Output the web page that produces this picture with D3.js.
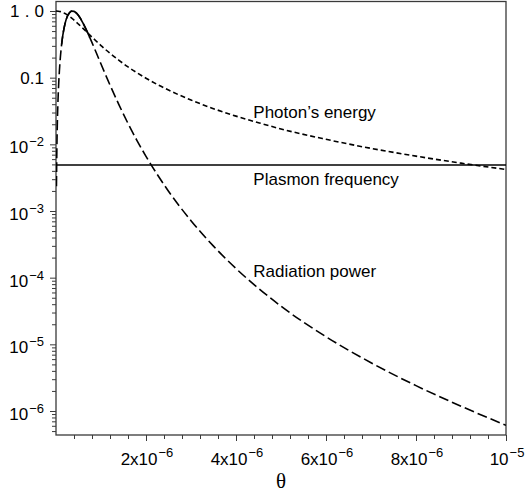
<!DOCTYPE html>
<html>
<head>
<meta charset="utf-8">
<script src="https://cdn.jsdelivr.net/npm/d3@7"></script>
<style>
  body { margin: 0; background: #fff; }
  svg { display: block; font-family: "Liberation Sans", Arial, Helvetica, sans-serif; }
</style>
</head>
<body>
<svg id="chart" width="525" height="496"></svg>
<script>
// theta values (rad)
const thetaPhoton = [0, 0.05e-6, 0.1e-6, 0.15e-6, 0.2e-6, 0.25e-6, 0.3e-6, 0.35e-6, 0.4e-6, 0.45e-6,
  0.5e-6, 0.6e-6, 0.7e-6, 0.8e-6, 0.9e-6, 1.0e-6, 1.2e-6, 1.4e-6, 1.6e-6, 1.8e-6, 2.0e-6,
  2.25e-6, 2.5e-6, 3.0e-6, 3.5e-6, 4.0e-6, 4.5e-6, 5.0e-6, 6.0e-6, 7.0e-6, 8.0e-6, 9.0e-6, 10e-6];
const photonEnergy = [1.0, 0.994, 0.978, 0.951, 0.916, 0.875, 0.829, 0.781, 0.731, 0.683,
  0.635, 0.548, 0.471, 0.405, 0.350, 0.303, 0.232, 0.182, 0.145, 0.1185, 0.0982,
  0.0792, 0.0652, 0.0462, 0.0343, 0.0265, 0.0211, 0.0170, 0.0119, 0.00870, 0.00665, 0.00522, 0.00420];

const thetaPower = [0.01e-6, 0.02e-6, 0.03e-6, 0.05e-6, 0.075e-6, 0.1e-6, 0.125e-6, 0.15e-6, 0.2e-6, 0.25e-6,
  0.3e-6, 0.35e-6, 0.4e-6, 0.45e-6, 0.5e-6, 0.6e-6, 0.7e-6, 0.75e-6, 0.8e-6, 0.9e-6, 1.0e-6,
  1.2e-6, 1.4e-6, 1.6e-6, 1.8e-6, 2.0e-6, 2.25e-6, 2.5e-6, 3.0e-6, 3.5e-6, 4.0e-6, 4.5e-6,
  5.0e-6, 6.0e-6, 7.0e-6, 8.0e-6, 9.0e-6, 10e-6];
const radiationPower = [0.00235, 0.00937, 0.0210, 0.0574, 0.125, 0.213, 0.316, 0.426, 0.644, 0.826,
  0.945, 0.997, 0.988, 0.935, 0.854, 0.660, 0.479, 0.402, 0.336, 0.232, 0.160,
  0.0776, 0.0391, 0.0206, 0.0114, 0.00661, 0.00353, 0.00198, 7.16e-4, 2.97e-4, 1.37e-4, 6.92e-5,
  3.73e-5, 1.30e-5, 5.3e-6, 2.4e-6, 1.18e-6, 6.1e-7];

const plasmonFrequency = 4.9e-3;

const yTickValues = [1, 0.1, 1e-2, 1e-3, 1e-4, 1e-5, 1e-6];
const yTickLabels = [["1.0", ""], ["0.1", ""], ["10", "\u22122"], ["10", "\u22123"], ["10", "\u22124"], ["10", "\u22125"], ["10", "\u22126"]];
const xTickValues = [2e-6, 4e-6, 6e-6, 8e-6, 1e-5];
const xTickLabels = [["2x10", "\u22126"], ["4x10", "\u22126"], ["6x10", "\u22126"], ["8x10", "\u22126"], ["10", "\u22125"]];

const annotations = [
  {text: "Photon\u2019s energy", x: 4.385e-6, y: 0.0248},
  {text: "Plasmon frequency", x: 4.385e-6, y: 2.46e-3},
  {text: "Radiation power", x: 4.385e-6, y: 1.02e-4}
];

const svg = d3.select('#chart');
const plotLeft = 56, plotRight = 506, plotTop = 1.5, plotBottom = 435;

const x = d3.scaleLinear().domain([0, 1e-5]).range([plotLeft, plotRight]);
const y = d3.scaleLog().domain([Math.pow(10, -6.36), Math.pow(10, 0.1425)]).range([plotBottom, plotTop]);

svg.append('defs').append('clipPath').attr('id', 'plotclip')
  .append('rect').attr('x', plotLeft).attr('y', plotTop)
  .attr('width', plotRight - plotLeft).attr('height', plotBottom - plotTop);

// minor ticks
const yMinor = [];
for (let d = -7; d <= 0; d++) {
  for (let k = 2; k <= 9; k++) {
    const v = k * Math.pow(10, d);
    if (v > y.domain()[0] && v < y.domain()[1]) yMinor.push(v);
  }
}
const xMinor = d3.range(1, 25).map(i => i * 0.4e-6)
  .filter(v => Math.abs((v / 2e-6) - Math.round(v / 2e-6)) > 1e-6);

const axisColor = '#3a3a3a';
function styleAxis(g) {
  g.select('.domain').remove();
  g.selectAll('line').attr('stroke', axisColor).attr('stroke-width', 1);
}

svg.append('g').attr('transform', `translate(${plotLeft},0)`)
  .call(d3.axisLeft(y).tickValues(yMinor).tickSize(4).tickFormat(''))
  .call(styleAxis);
svg.append('g').attr('transform', `translate(${plotLeft},0)`)
  .call(d3.axisLeft(y).tickValues(yTickValues).tickSize(6).tickFormat(''))
  .call(styleAxis);
svg.append('g').attr('transform', `translate(0,${plotBottom})`)
  .call(d3.axisBottom(x).tickValues(xMinor).tickSize(4).tickFormat(''))
  .call(styleAxis);
svg.append('g').attr('transform', `translate(0,${plotBottom})`)
  .call(d3.axisBottom(x).tickValues(xTickValues).tickSize(6).tickFormat(''))
  .call(styleAxis);

// frame
svg.append('rect')
  .attr('x', plotLeft).attr('y', plotTop).attr('width', plotRight - plotLeft).attr('height', plotBottom - plotTop)
  .attr('fill', 'none').attr('stroke', axisColor).attr('stroke-width', 1.3);

// y tick labels
yTickValues.forEach((v, i) => {
  const [base, sup] = yTickLabels[i];
  const ty = y(v);
  const t = svg.append('text').attr('text-anchor', 'end').attr('x', 44).attr('fill', '#000');
  if (sup) {
    t.attr('y', ty + 9).attr('font-size', 17);
    t.append('tspan').text(base);
    t.append('tspan').attr('font-size', 13).attr('dy', -7).attr('dx', 1).text(sup);
  } else {
    t.attr('y', ty + 6).attr('font-size', 17).text(base);
    if (base === '1.0') t.attr('textLength', 34).attr('lengthAdjust', 'spacing');
  }
});

// x tick labels
xTickValues.forEach((v, i) => {
  const [base, sup] = xTickLabels[i];
  const t = svg.append('text').attr('text-anchor', 'middle').attr('x', x(v) + 1).attr('y', 465)
    .attr('font-size', 17).attr('fill', '#000');
  t.append('tspan').text(base);
  t.append('tspan').attr('font-size', 13).attr('dy', -8).attr('dx', 1).text(sup);
});

svg.append('text').attr('x', (plotLeft + plotRight) / 2).attr('y', 488).attr('text-anchor', 'middle')
  .attr('font-family', '"Liberation Serif", "DejaVu Serif", serif').attr('font-size', 21).attr('fill', '#000')
  .text('\u03b8');

const plot = svg.append('g').attr('clip-path', 'url(#plotclip)');

const line = d3.line().x(d => x(d[0])).y(d => y(d[1])).curve(d3.curveMonotoneX);

const photonPts = thetaPhoton.map((t, i) => [t, photonEnergy[i]]);
const powerPts = thetaPower.map((t, i) => [t, radiationPower[i]]);

plot.append('path').attr('d', line(photonPts))
  .attr('fill', 'none').attr('stroke', '#000').attr('stroke-width', 1.6).attr('stroke-dasharray', '5,3');

plot.append('path').attr('d', line(powerPts))
  .attr('fill', 'none').attr('stroke', '#000').attr('stroke-width', 1.6).attr('stroke-dasharray', '10,4');

// dense sampling around the peak renders solid in the original
plot.append('path').attr('d', line(powerPts.filter(d => d[0] >= 0.125e-6 && d[0] <= 0.75e-6)))
  .attr('fill', 'none').attr('stroke', '#000').attr('stroke-width', 1.6);

plot.append('line')
  .attr('x1', x(0)).attr('x2', x(1e-5))
  .attr('y1', y(plasmonFrequency)).attr('y2', y(plasmonFrequency))
  .attr('stroke', '#000').attr('stroke-width', 1.5);

annotations.forEach(a => {
  svg.append('text').attr('x', x(a.x)).attr('y', y(a.y)).attr('font-size', 17).attr('fill', '#000').text(a.text);
});
</script>
</body>
</html>
